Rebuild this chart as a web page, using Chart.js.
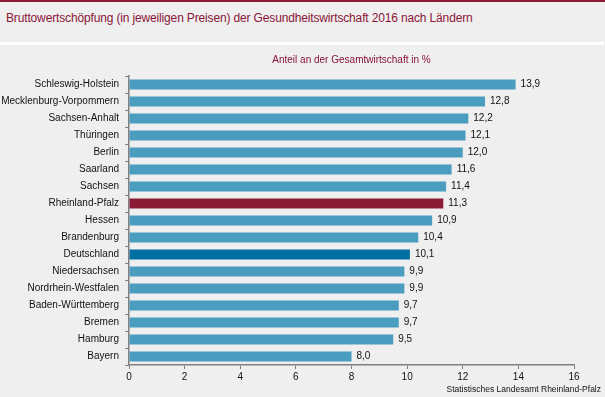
<!DOCTYPE html>
<html>
<head>
<meta charset="utf-8">
<script src="https://cdn.jsdelivr.net/npm/chart.js@4/dist/chart.umd.min.js"></script>
<style>
  html, body { margin: 0; padding: 0; background: #eeefee; }
  body { width: 605px; height: 397px; position: relative; overflow: hidden; font-family: "Liberation Sans", Arial, sans-serif; }
  .topline { position: absolute; left: 0; top: 0; width: 605px; height: 2px; background: #8b1a36; }
  .header { position: absolute; left: 0; top: 2px; width: 605px; height: 40px; background: #eeefee; }
  .header h1 { margin: 0; position: absolute; left: 6px; top: 9px; font-size: 12px; font-weight: normal; color: #8b1538; letter-spacing: -0.15px; }
  .sep { position: absolute; left: 0; top: 42px; width: 604px; height: 3px; background: #ffffff; }
  .box { position: absolute; left: 0; top: 45px; width: 605px; height: 352px; }
</style>
</head>
<body>
<div class="topline"></div>
<div class="header"><h1>Bruttowertschöpfung (in jeweiligen Preisen) der Gesundheitswirtschaft 2016 nach Ländern</h1></div>
<div class="sep"></div>
<div class="box"><canvas id="chart" width="605" height="352"></canvas></div>
<script>
// ==== Data ====
const laender = [
  "Schleswig-Holstein", "Mecklenburg-Vorpommern", "Sachsen-Anhalt", "Thüringen", "Berlin",
  "Saarland", "Sachsen", "Rheinland-Pfalz", "Hessen", "Brandenburg", "Deutschland",
  "Niedersachsen", "Nordrhein-Westfalen", "Baden-Württemberg", "Bremen", "Hamburg", "Bayern"
];
const anteil = [13.9, 12.8, 12.2, 12.1, 12.0, 11.6, 11.4, 11.3, 10.9, 10.4, 10.1, 9.9, 9.9, 9.7, 9.7, 9.5, 8.0];
const xTicks = [0, 2, 4, 6, 8, 10, 12, 14, 16];

const barColors = laender.map(l => {
  if (l === "Rheinland-Pfalz") return "#8b1a36";
  if (l === "Deutschland") return "#0070a3";
  return "#4b9dbf";
});

const fmt = v => v.toFixed(1).replace(".", ",");
const FONT = "'Liberation Sans', Arial, sans-serif";

// axis title, value labels, source note
const labelPlugin = {
  id: "valueLabels",
  afterDatasetsDraw(chart) {
    const ctx = chart.ctx;
    const area = chart.chartArea;
    const meta = chart.getDatasetMeta(0);
    ctx.save();
    ctx.textBaseline = "middle";

    ctx.font = "10px " + FONT;
    ctx.fillStyle = "#8b1538";
    ctx.textAlign = "center";
    ctx.fillText("Anteil an der Gesamtwirtschaft in %", (area.left + area.right) / 2, 15);

    ctx.fillStyle = "#111111";
    ctx.textAlign = "left";
    meta.data.forEach((bar, i) => {
      ctx.fillText(fmt(anteil[i]), bar.x + 5, bar.y);
    });

    ctx.font = "8.5px " + FONT;
    ctx.textAlign = "right";
    ctx.fillText("Statistisches Landesamt Rheinland-Pfalz", 601, 345);
    ctx.restore();
  }
};

const ctx = document.getElementById("chart").getContext("2d");
new Chart(ctx, {
  type: "bar",
  data: {
    labels: laender,
    datasets: [{
      data: anteil,
      backgroundColor: barColors,
      barPercentage: 0.6,
      categoryPercentage: 1.0
    }]
  },
  options: {
    indexAxis: "y",
    responsive: false,
    animation: false,
    layout: { padding: { left: 0, right: 31, top: 31, bottom: 0 } },
    plugins: {
      legend: { display: false },
      tooltip: { enabled: false },
      title: { display: false }
    },
    scales: {
      x: {
        min: 0,
        max: 16,
        afterBuildTicks: scale => { scale.ticks = xTicks.map(v => ({ value: v })); },
        afterFit: scale => { scale.height = 32; },
        grid: { drawOnChartArea: false, tickLength: 4, color: "#808080", lineWidth: 1 },
        border: { color: "#808080", width: 1.5 },
        ticks: { color: "#111111", padding: 2, font: { family: FONT, size: 10 } }
      },
      y: {
        afterFit: scale => { scale.width = 129; },
        grid: { drawOnChartArea: false, tickLength: 4, color: "#808080", lineWidth: 1 },
        border: { color: "#808080", width: 1.5 },
        ticks: { color: "#111111", padding: 6, autoSkip: false, font: { family: FONT, size: 10 } }
      }
    }
  },
  plugins: [labelPlugin]
});
</script>
</body>
</html>
